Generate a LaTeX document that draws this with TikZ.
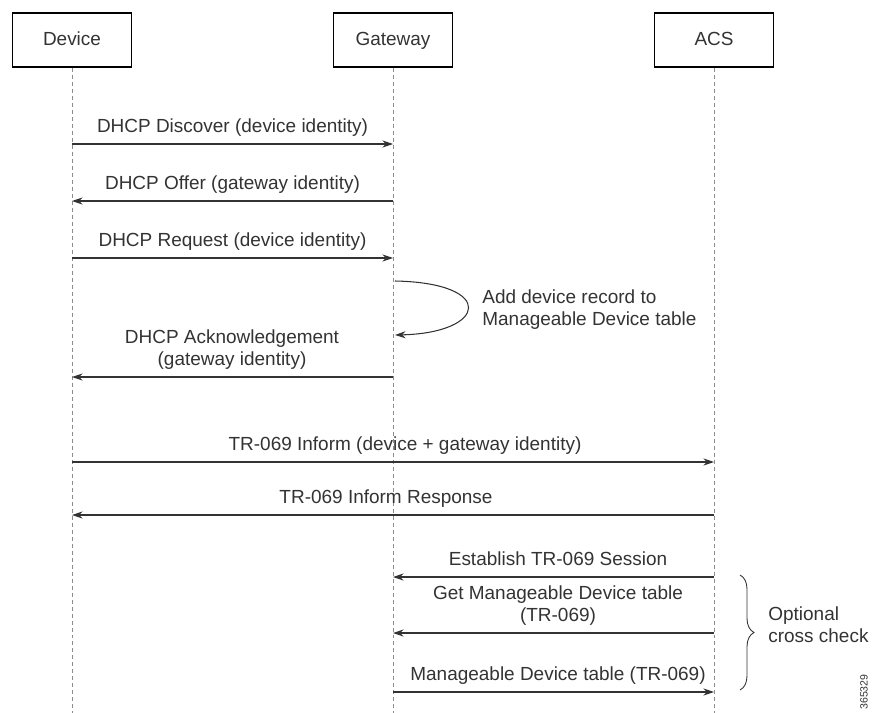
\documentclass[tikz,border=0pt]{standalone}
\usepackage{fontspec}
\setmainfont{Liberation Sans}
\usepackage{xcolor}
\usepackage{tikz}
\usetikzlibrary{arrows.meta,decorations.pathreplacing}
\definecolor{linecolor}{HTML}{333333}
\definecolor{lifecolor}{HTML}{8C8C8C}

\begin{document}
\begin{tikzpicture}[x=0.02cm, y=-0.02cm,
  actor/.style={draw=black, line width=0.7pt, rectangle, minimum width=2.38cm, minimum height=1.08cm, text height=7.7pt, text depth=1pt, font=\fontsize{10.8}{13}\selectfont, text=linecolor},
  lifeline/.style={draw=lifecolor, line width=0.45pt, dash pattern=on 0.8mm off 0.6mm},
  msg/.style={draw=linecolor, line width=0.6pt, -{Stealth[length=2.1mm, width=1.4mm]}},
  msgtext/.style={font=\fontsize{10.8}{12.5}\selectfont, text=linecolor, align=center},
  every node/.style={inner sep=0pt}]%
\useasboundingbox (0,0) rectangle (872,713);%
\node[actor] (device) at (72, 40) {Device};%
\node[actor] (gateway) at (393, 40) {Gateway};%
\node[actor] (acs) at (714, 40) {ACS};%
\coordinate (device-end) at (72, 713);%
\coordinate (gateway-end) at (393, 713);%
\coordinate (acs-end) at (714, 713);%
\draw[lifeline] (device.south) -- (device-end);%
\draw[lifeline] (gateway.south) -- (gateway-end);%
\draw[lifeline] (acs.south) -- (acs-end);%
\coordinate (d1) at (72, 144);%
\coordinate (g1) at (393, 144);%
\coordinate (d2) at (72, 201);%
\coordinate (g2) at (393, 201);%
\coordinate (d3) at (72, 258);%
\coordinate (g3) at (393, 258);%
\coordinate (g4a) at (395, 281);%
\coordinate (g4b) at (395, 335);%
\coordinate (d5) at (72, 377);%
\coordinate (g5) at (393, 377);%
\coordinate (d6) at (72, 462);%
\coordinate (a6) at (714, 462);%
\coordinate (d7) at (72, 515);%
\coordinate (a7) at (714, 515);%
\coordinate (g8) at (393, 577);%
\coordinate (a8) at (714, 577);%
\coordinate (g9) at (393, 633);%
\coordinate (a9) at (714, 633);%
\coordinate (g10) at (393, 692);%
\coordinate (a10) at (714, 692);%
\draw[msg] (d1) -- (g1) node[msgtext, midway, above=6.8pt, anchor=base] (discover) {DHCP Discover (device identity)};%
\draw[msg] (g2) -- (d2) node[msgtext, midway, above=6.8pt, anchor=base] (offer) {DHCP Offer (gateway identity)};%
\draw[msg] (d3) -- (g3) node[msgtext, midway, above=6.8pt, anchor=base] (request) {DHCP Request (device identity)};%
\draw[msg] (g4a) .. controls (497, 283) and (487, 333) .. (g4b);%
\node[msgtext, align=left, anchor=base west] (record) at (482, 325) {Add device record to\\Manageable Device table};%
\draw[msg] (g5) -- (d5);%
\node[msgtext, anchor=base] (ack) at (232, 365) {DHCP Acknowledgement\\(gateway identity)};%
\draw[msg] (d6) -- (a6);%
\node[msgtext, anchor=base] (inform) at (405, 450) {TR-069 Inform (device + gateway identity)};%
\draw[msg] (a7) -- (d7);%
\node[msgtext, anchor=base] (response) at (386, 503) {TR-069 Inform Response};%
\draw[msg] (a8) -- (g8);%
\node[msgtext, anchor=base] (session) at (558, 565) {Establish TR-069 Session};%
\draw[msg] (a9) -- (g9);%
\node[msgtext, anchor=base] (gettable) at (558, 621) {Get Manageable Device table\\(TR-069)};%
\draw[msg] (g10) -- (a10);%
\node[msgtext, anchor=base] (table) at (558, 680) {Manageable Device table (TR-069)};%
\coordinate (brace-top) at (740, 575);%
\coordinate (brace-bottom) at (740, 690);%
\draw[linecolor, line width=0.5pt, decorate, decoration={brace, amplitude=0.28cm}] (brace-top) -- (brace-bottom);%
\node[msgtext, align=left, anchor=base west] (check) at (768, 642) {Optional\\cross check};%
\node[font=\fontsize{6}{7}\selectfont, text=linecolor, rotate=90] (figid) at (864, 692) {365329};%
\end{tikzpicture}
\end{document}
